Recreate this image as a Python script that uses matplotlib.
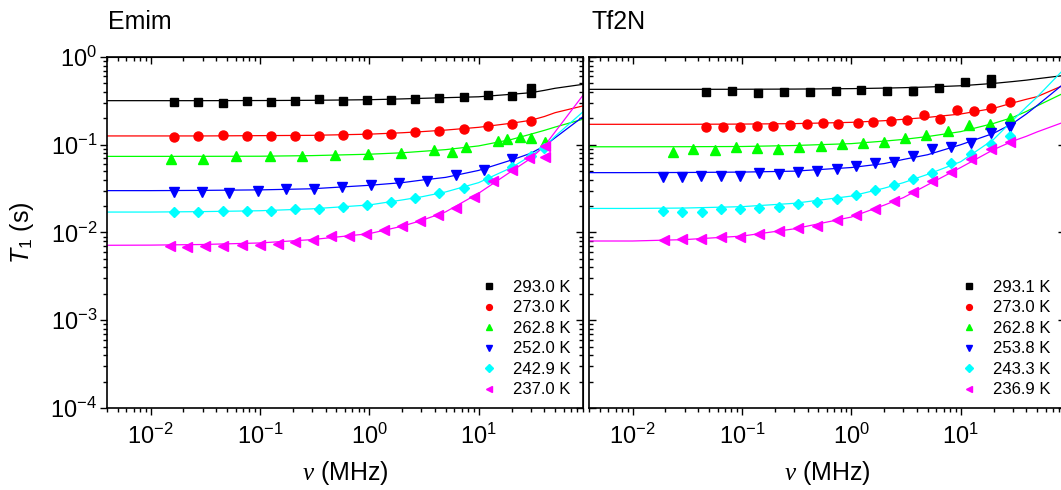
import matplotlib
matplotlib.use('Agg')
import matplotlib.pyplot as plt
from matplotlib.ticker import LogLocator, NullFormatter

plt.rcParams['font.family'] = ['Liberation Sans', 'DejaVu Sans']
plt.rcParams['mathtext.fontset'] = 'custom'
plt.rcParams['mathtext.rm'] = 'Liberation Sans'
plt.rcParams['mathtext.it'] = 'Liberation Serif:italic'
plt.rcParams['mathtext.sf'] = 'Liberation Sans:italic'

colors = ['#000000', '#ff0000', '#00ff00', '#0000ff', '#00ffff', '#ff00ff']
markers = ['s', 'o', '^', 'v', 'D', '<']
msizes = [5.5, 6.5, 7, 7, 5.5, 7]

fit_nu = [0.004, 0.01, 0.03, 0.1, 0.3, 1, 2, 3, 5, 10, 20, 30, 40, 50, 92]

# ---- Emim ----
emim_labels = ['293.0 K', '273.0 K', '262.8 K', '252.0 K', '242.9 K', '237.0 K']

emim_nu_293 = [0.0165, 0.0272, 0.0457, 0.076, 0.126, 0.208, 0.347, 0.577, 0.96, 1.58, 2.64, 4.38, 7.3, 12.1, 20.0, 30.0, 30.0]
emim_t1_293 = [0.307, 0.307, 0.299, 0.312, 0.307, 0.315, 0.329, 0.315, 0.323, 0.323, 0.329, 0.338, 0.349, 0.368, 0.362, 0.391, 0.438]
emim_err_293 = [0.006, 0.006, 0.006, 0.006, 0.006, 0.006, 0.022, 0.006, 0.006, 0.006, 0.006, 0.006, 0.006, 0.008, 0.008, 0.01, 0.03]

emim_nu_273 = [0.0165, 0.0272, 0.0457, 0.076, 0.126, 0.208, 0.347, 0.577, 0.96, 1.58, 2.64, 4.38, 7.3, 12.1, 20.0, 30.0]
emim_t1_273 = [0.123, 0.1264, 0.1286, 0.1254, 0.1242, 0.1264, 0.1264, 0.1286, 0.1333, 0.1343, 0.138, 0.1416, 0.1503, 0.164, 0.1744, 0.1885]

emim_nu_263 = [0.01545, 0.0305, 0.061, 0.1225, 0.243, 0.491, 0.975, 1.94, 3.88, 5.68, 7.65, 14.96, 18.3, 23.7, 30.3, 40.4]
emim_t1_263 = [0.0695, 0.0695, 0.0738, 0.0738, 0.0744, 0.0757, 0.0784, 0.0812, 0.0862, 0.0833, 0.0941, 0.109, 0.115, 0.122, 0.118, 0.107]

emim_nu_252 = [0.0165, 0.0298, 0.0524, 0.096, 0.173, 0.315, 0.568, 1.03, 1.88, 3.36, 6.15, 11.1, 20.2]
emim_t1_252 = [0.0289, 0.0289, 0.0284, 0.0296, 0.031, 0.031, 0.0329, 0.0347, 0.0368, 0.0391, 0.045, 0.0521, 0.0695]

emim_nu_243 = [0.0165, 0.0272, 0.0457, 0.076, 0.126, 0.208, 0.347, 0.577, 0.96, 1.58, 2.64, 4.38, 7.3, 12.1, 20.0, 30.0, 40.0]
emim_t1_243 = [0.01714, 0.0173, 0.01745, 0.01775, 0.01775, 0.01837, 0.0187, 0.01936, 0.02056, 0.0222, 0.0249, 0.0279, 0.0323, 0.0402, 0.0554, 0.075, 0.093]

emim_nu_237 = [0.0152, 0.0215, 0.0317, 0.0464, 0.0679, 0.1, 0.145, 0.208, 0.305, 0.446, 0.652, 0.937, 1.37, 1.99, 2.9, 4.25, 6.15, 9.0, 13.5, 20.0, 28.6, 40.2, 40.2]
emim_t1_237 = [0.00695, 0.00683, 0.00706, 0.00706, 0.00725, 0.00725, 0.00738, 0.00784, 0.00826, 0.00901, 0.00901, 0.00949, 0.0107, 0.0119, 0.01355, 0.01585, 0.019, 0.0253, 0.0385, 0.052, 0.0706, 0.0968, 0.0725]

emim_fit_293 = [0.318, 0.318, 0.318, 0.319, 0.321, 0.326, 0.333, 0.338, 0.344, 0.352, 0.376, 0.392, 0.417, 0.44, 0.49]
emim_fit_273 = [0.126, 0.126, 0.126, 0.127, 0.128, 0.132, 0.137, 0.141, 0.147, 0.158, 0.176, 0.19, 0.21, 0.232, 0.279]
emim_fit_263 = [0.0737, 0.0737, 0.0738, 0.074, 0.0752, 0.078, 0.081, 0.084, 0.088, 0.097, 0.115, 0.132, 0.146, 0.159, 0.197]
emim_fit_252 = [0.0300, 0.0300, 0.0302, 0.0306, 0.0315, 0.0345, 0.037, 0.0395, 0.0425, 0.051, 0.067, 0.08, 0.097, 0.12, 0.213]
emim_fit_243 = [0.0171, 0.0171, 0.0173, 0.0177, 0.0186, 0.0206, 0.0235, 0.0255, 0.029, 0.037, 0.055, 0.075, 0.095, 0.125, 0.243]
emim_fit_237 = [0.00715, 0.00718, 0.0073, 0.0076, 0.0083, 0.0097, 0.0118, 0.0137, 0.0172, 0.028, 0.05, 0.07, 0.097, 0.14, 0.38]

# ---- Tf2N ----
tf2n_labels = ['293.1 K', '273.0 K', '262.8 K', '253.8 K', '243.3 K', '236.9 K']

tf2n_nu_293 = [0.0471, 0.0819, 0.1415, 0.243, 0.42, 0.72, 1.24, 2.13, 3.68, 6.32, 10.9, 18.9, 18.9]
tf2n_t1_293 = [0.399, 0.406, 0.392, 0.399, 0.399, 0.413, 0.421, 0.413, 0.413, 0.447, 0.524, 0.51, 0.556]
tf2n_err_293 = [0.012, 0.012, 0.012, 0.012, 0.012, 0.012, 0.012, 0.012, 0.04, 0.02, 0.015, 0.015, 0.015]

tf2n_nu_273 = [0.0471, 0.0678, 0.0962, 0.1365, 0.194, 0.275, 0.391, 0.555, 0.75, 1.16, 1.59, 2.29, 3.24, 4.61, 6.54, 9.29, 13.2, 18.9, 28.1]
tf2n_t1_273 = [0.1607, 0.1607, 0.158, 0.1636, 0.1636, 0.168, 0.171, 0.1755, 0.172, 0.177, 0.18, 0.1865, 0.193, 0.2165, 0.198, 0.249, 0.240, 0.262, 0.307]

tf2n_nu_263 = [0.0233, 0.036, 0.0569, 0.0885, 0.1386, 0.2155, 0.335, 0.525, 0.828, 1.29, 2.0, 3.13, 4.87, 7.69, 11.97, 18.7, 28.1]
tf2n_t1_263 = [0.0834, 0.0895, 0.0864, 0.0951, 0.0926, 0.0902, 0.0951, 0.0977, 0.1028, 0.1056, 0.1066, 0.1205, 0.128, 0.1446, 0.1665, 0.172, 0.2036]

tf2n_nu_254 = [0.0189, 0.0282, 0.0424, 0.0641, 0.0962, 0.1445, 0.217, 0.326, 0.489, 0.734, 1.10, 1.65, 2.45, 3.68, 5.53, 8.25, 12.4, 18.9, 28.1]
tf2n_t1_254 = [0.0433, 0.0433, 0.0444, 0.0444, 0.0444, 0.0472, 0.046, 0.0493, 0.0507, 0.053, 0.0578, 0.0614, 0.063, 0.0745, 0.0895, 0.095, 0.1056, 0.1374, 0.1607]

tf2n_nu_243 = [0.0189, 0.0282, 0.043, 0.0641, 0.0962, 0.1445, 0.217, 0.326, 0.489, 0.734, 1.10, 1.65, 2.45, 3.68, 5.53, 8.25, 12.4, 18.9, 28.1]
tf2n_t1_243 = [0.01774, 0.01726, 0.01726, 0.01837, 0.01837, 0.0192, 0.0197, 0.0211, 0.0223, 0.0241, 0.0267, 0.0305, 0.0345, 0.0404, 0.0481, 0.0614, 0.0785, 0.102, 0.126]

tf2n_nu_237 = [0.0192, 0.0286, 0.0424, 0.0641, 0.0962, 0.1445, 0.217, 0.326, 0.489, 0.734, 1.10, 1.65, 2.45, 3.68, 5.53, 8.25, 12.4, 18.9, 28.1]
tf2n_t1_237 = [0.00822, 0.00836, 0.00836, 0.00897, 0.00881, 0.00953, 0.0105, 0.01115, 0.01197, 0.01387, 0.0158, 0.0187, 0.0227, 0.0287, 0.0386, 0.0485, 0.0682, 0.0887, 0.1066]

tf2n_fit_293 = [0.428, 0.428, 0.428, 0.429, 0.431, 0.436, 0.442, 0.447, 0.455, 0.47, 0.50, 0.525, 0.545, 0.565, 0.62]
tf2n_fit_273 = [0.171, 0.171, 0.171, 0.172, 0.174, 0.18, 0.188, 0.195, 0.205, 0.224, 0.26, 0.30, 0.33, 0.353, 0.49]
tf2n_fit_263 = [0.0948, 0.0948, 0.095, 0.0955, 0.098, 0.103, 0.11, 0.115, 0.124, 0.141, 0.175, 0.205, 0.24, 0.277, 0.40]
tf2n_fit_254 = [0.0481, 0.0481, 0.0483, 0.0488, 0.050, 0.055, 0.061, 0.068, 0.077, 0.10, 0.135, 0.175, 0.225, 0.28, 0.52]
tf2n_fit_243 = [0.0188, 0.0188, 0.019, 0.0197, 0.0215, 0.026, 0.032, 0.037, 0.046, 0.064, 0.115, 0.19, 0.27, 0.35, 0.77]
tf2n_fit_237 = [0.0080, 0.0080, 0.0083, 0.0091, 0.011, 0.015, 0.0205, 0.025, 0.035, 0.055, 0.088, 0.11, 0.125, 0.14, 0.185]

emim_nu = [emim_nu_293, emim_nu_273, emim_nu_263, emim_nu_252, emim_nu_243, emim_nu_237]
emim_t1 = [emim_t1_293, emim_t1_273, emim_t1_263, emim_t1_252, emim_t1_243, emim_t1_237]
emim_err = [emim_err_293, None, None, None, None, None]
emim_fit = [emim_fit_293, emim_fit_273, emim_fit_263, emim_fit_252, emim_fit_243, emim_fit_237]
tf2n_nu = [tf2n_nu_293, tf2n_nu_273, tf2n_nu_263, tf2n_nu_254, tf2n_nu_243, tf2n_nu_237]
tf2n_t1 = [tf2n_t1_293, tf2n_t1_273, tf2n_t1_263, tf2n_t1_254, tf2n_t1_243, tf2n_t1_237]
tf2n_err = [tf2n_err_293, None, None, None, None, None]
tf2n_fit = [tf2n_fit_293, tf2n_fit_273, tf2n_fit_263, tf2n_fit_254, tf2n_fit_243, tf2n_fit_237]

W, H = 1061, 490
fig = plt.figure(figsize=(W / 100, H / 100), dpi=100)
ax1 = fig.add_axes([107 / W, 1 - 408 / H, 476 / W, 351 / H])
ax2 = fig.add_axes([589 / W, 1 - 408 / H, 476 / W, 351 / H])


def setup_log_axis(axis):
    axis.set_major_locator(LogLocator(base=10, numticks=20))
    axis.set_minor_locator(LogLocator(base=10, subs=range(2, 10), numticks=100))
    axis.set_minor_formatter(NullFormatter())


def draw_panel(ax, nus, t1s, errs, fits, labels, leg_x, show_ylabels):
    for i in range(6):
        ax.plot(fit_nu, fits[i], color=colors[i], lw=0.9, zorder=2)
        ax.errorbar(nus[i], t1s[i], yerr=errs[i], fmt=markers[i], color=colors[i],
                    ms=msizes[i], mec=colors[i], capsize=2.5, elinewidth=1, capthick=1,
                    zorder=3)
        ax.plot([], [], ls='none', marker=markers[i], color=colors[i], ms=4.2, label=labels[i])
    ax.set_xscale('log')
    ax.set_yscale('log')
    ax.set_xlim(0.004, 90)
    ax.set_ylim(1e-4, 1)
    setup_log_axis(ax.xaxis)
    setup_log_axis(ax.yaxis)
    for s in ax.spines.values():
        s.set_linewidth(1.2)
    ax.tick_params(axis='x', which='both', direction='out', labelsize=17, width=1, pad=6)
    ax.tick_params(axis='x', which='major', length=5)
    ax.tick_params(axis='x', which='minor', length=3)

    top = ax.secondary_xaxis('top')
    setup_log_axis(top.xaxis)
    top.tick_params(which='both', direction='in', labeltop=False, width=1)
    top.tick_params(which='major', length=5)
    top.tick_params(which='minor', length=3)

    if show_ylabels:
        ax.tick_params(axis='y', which='both', direction='out', labelsize=17, width=1, pad=2)
        ax.tick_params(axis='y', which='major', length=5)
        ax.tick_params(axis='y', which='minor', length=3)
        right = ax.secondary_yaxis('right')
        setup_log_axis(right.yaxis)
        right.tick_params(which='both', direction='in', labelright=False, width=1)
        right.tick_params(which='major', length=5)
        right.tick_params(which='minor', length=3)
    else:
        ax.tick_params(axis='y', which='both', direction='in', left=True, right=True,
                       labelleft=False, width=1)
        ax.tick_params(axis='y', which='major', length=5)
        ax.tick_params(axis='y', which='minor', length=3)

    ax.set_xlabel(r'$\nu$ (MHz)', fontsize=18)
    ax.xaxis.set_label_coords(0.5, -0.145)
    ax.legend(loc='lower right', bbox_to_anchor=(leg_x, 0.03), frameon=False, fontsize=12,
              borderpad=0, borderaxespad=0, handlelength=1.0, handletextpad=0.95,
              labelspacing=0.33)


draw_panel(ax1, emim_nu, emim_t1, emim_err, emim_fit, emim_labels, 0.975, True)
draw_panel(ax2, tf2n_nu, tf2n_t1, tf2n_err, tf2n_fit, tf2n_labels, 0.97, False)

ax1.set_ylabel(r'$\mathsf{T}_{\mathrm{1}}$ (s)', fontsize=18)
ax1.yaxis.set_label_coords(-0.15, 0.5)

fig.text(108 / W, 1 - 22 / H, 'Emim', fontsize=18, va='center', ha='left')
fig.text(592 / W, 1 - 22 / H, 'Tf2N', fontsize=18, va='center', ha='left')

fig.savefig('out.png', dpi=100)
